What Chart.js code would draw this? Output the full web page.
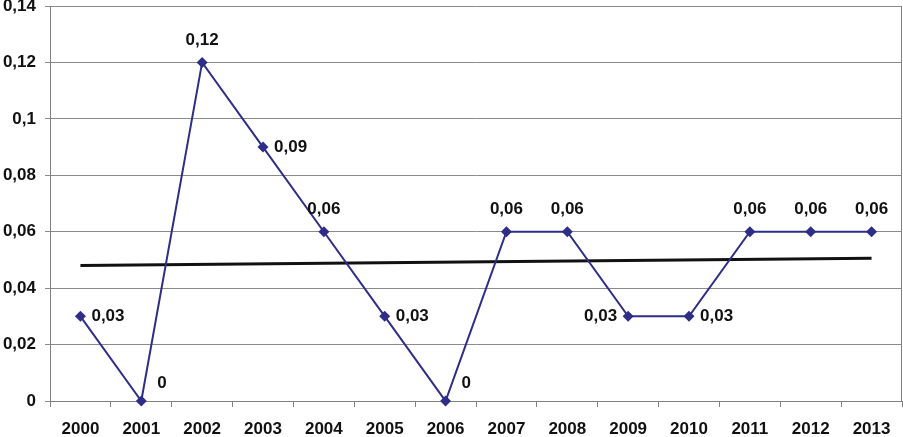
<!DOCTYPE html>
<html>
<head>
<meta charset="utf-8">
<script src="https://cdn.jsdelivr.net/npm/chart.js@4/dist/chart.umd.min.js"></script>
<style>
  html, body { margin: 0; padding: 0; background: #fff; }
  #wrap { width: 903px; height: 437px; }
</style>
</head>
<body>
<div id="wrap"><canvas id="c"></canvas></div>
<script>
// chart data
const years = ['2000', '2001', '2002', '2003', '2004', '2005', '2006',
               '2007', '2008', '2009', '2010', '2011', '2012', '2013'];
const values = [0.03, 0, 0.12, 0.09, 0.06, 0.03, 0, 0.06, 0.06, 0.03, 0.03, 0.06, 0.06, 0.06];
// trend line end points
const trendEnds = [0.048, 0.0506];

// where each value label sits relative to its point
const labelPos = ['right', 'upRight', 'top', 'right', 'top', 'right', 'upRight',
                  'top', 'top', 'left', 'right', 'top', 'top', 'top'];

const FONT = '"Liberation Sans", Arial, sans-serif';
const fmt = v => String(v).replace('.', ',');

const trendData = years.map((_, i) => i === 0 ? trendEnds[0] : (i === years.length - 1 ? trendEnds[1] : null));

const valueLabels = {
    id: 'valueLabels',
    afterDatasetsDraw(chart) {
        const ctx = chart.ctx;
        const meta = chart.getDatasetMeta(1);
        ctx.save();
        ctx.font = 'bold 17px ' + FONT;
        ctx.fillStyle = '#111';
        ctx.textBaseline = 'middle';
        meta.data.forEach((pt, i) => {
            const txt = fmt(values[i]);
            const pos = labelPos[i];
            let x = pt.x, y = pt.y;
            if (pos === 'right') { ctx.textAlign = 'left'; x += 11; }
            else if (pos === 'left') { ctx.textAlign = 'right'; x -= 11; }
            else if (pos === 'top') { ctx.textAlign = 'center'; y -= 22; }
            else if (pos === 'upRight') { ctx.textAlign = 'left'; x += 16; y -= 18; }
            ctx.fillText(txt, x, y);
        });
        ctx.restore();
    }
};

const plotBorder = {
    id: 'plotBorder',
    afterDraw(chart) {
        const a = chart.chartArea;
        const ctx = chart.ctx;
        ctx.save();
        ctx.strokeStyle = '#808080';
        ctx.lineWidth = 1;
        ctx.beginPath();
        ctx.moveTo(Math.round(a.right) - 0.5, a.top);
        ctx.lineTo(Math.round(a.right) - 0.5, a.bottom);
        ctx.stroke();
        ctx.restore();
    }
};

new Chart(document.getElementById('c'), {
    type: 'line',
    data: {
        labels: years,
        datasets: [
            {
                label: 'trend',
                data: trendData,
                borderColor: '#111111',
                borderWidth: 3,
                pointRadius: 0,
                spanGaps: true,
                order: 2
            },
            {
                label: 'values',
                data: values,
                borderColor: '#2E2E86',
                backgroundColor: '#2E2E86',
                borderWidth: 2,
                pointStyle: 'rectRot',
                pointRadius: 5.5,
                pointBorderWidth: 0,
                tension: 0,
                clip: false,
                order: 1
            }
        ]
    },
    options: {
        responsive: true,
        maintainAspectRatio: false,
        animation: false,
        layout: { autoPadding: false, padding: { top: 6, right: 1, left: 0, bottom: 0 } },
        plugins: {
            legend: { display: false },
            tooltip: { enabled: false }
        },
        scales: {
            x: {
                offset: true,
                grid: {
                    offset: true,
                    drawOnChartArea: false,
                    drawTicks: true,
                    tickLength: 6,
                    color: '#808080'
                },
                border: { color: '#808080', width: 1 },
                ticks: {
                    color: '#111',
                    padding: 12,
                    maxRotation: 0,
                    autoSkip: false,
                    font: { family: FONT, size: 17, weight: 'bold' }
                },
                afterFit: s => {
                    s.height = 36;
                    s.paddingLeft = 0;
                    s.paddingRight = 0;
                }
            },
            y: {
                min: 0,
                max: 0.14,
                grid: {
                    color: '#8a8a8a',
                    tickLength: 5
                },
                border: { color: '#808080', width: 1 },
                ticks: {
                    stepSize: 0.02,
                    color: '#111',
                    padding: 9,
                    callback: v => fmt(Math.round(v * 100) / 100),
                    font: { family: FONT, size: 17, weight: 'bold' }
                },
                afterFit: s => {
                    s.width = 50;
                    s.paddingTop = 0;
                    s.paddingBottom = 0;
                }
            }
        }
    },
    plugins: [valueLabels, plotBorder]
});
</script>
</body>
</html>
